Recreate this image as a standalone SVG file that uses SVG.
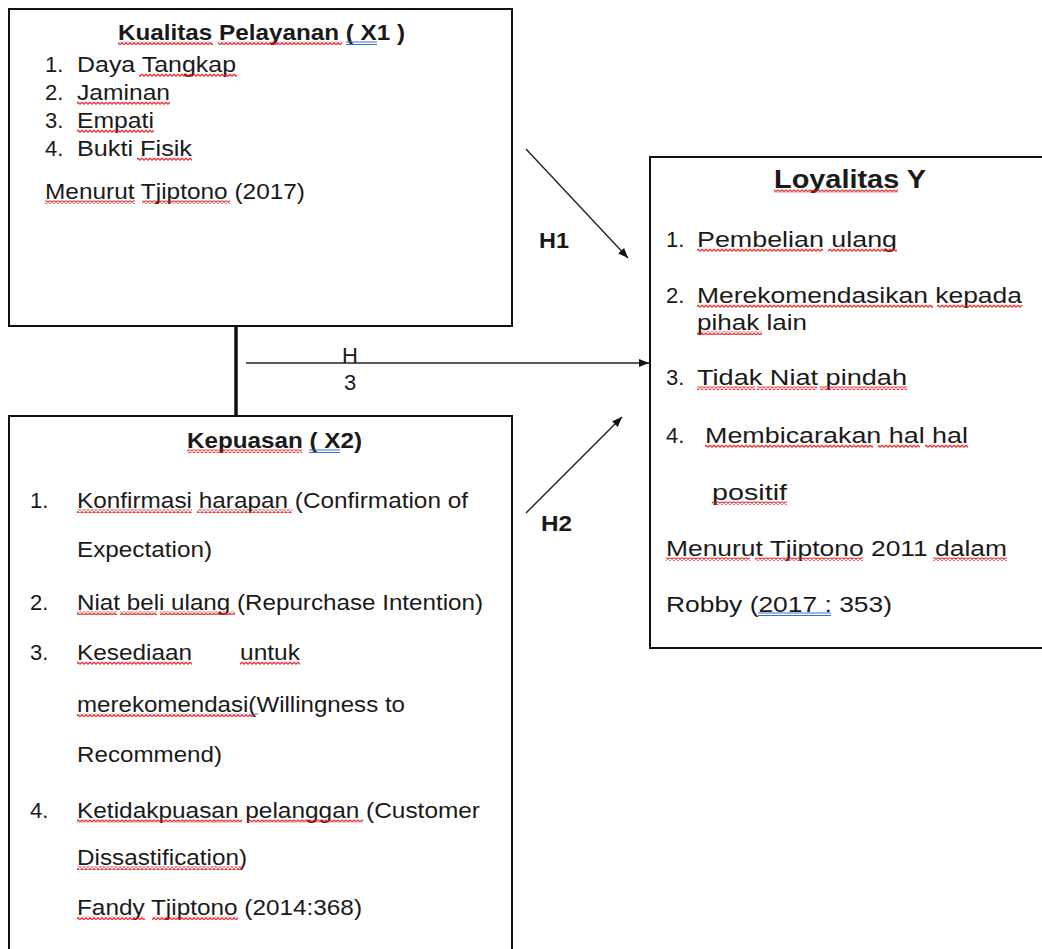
<svg xmlns="http://www.w3.org/2000/svg" width="1042" height="949" viewBox="0 0 1042 949">
<defs>
<style>
.box{fill:#fff;stroke:#111;stroke-width:2}
.t{font-family:"Liberation Sans",Arial,sans-serif;font-size:22px;fill:#1a1a1a}
.b{font-weight:bold}
.ar{stroke:#222;stroke-width:1.4;fill:none;marker-end:url(#ah)}
.w{fill:url(#wave)}
.bl{stroke:#3f6fd0;stroke-width:1}
</style>
<marker id="ah" viewBox="0 0 10 8" refX="10" refY="4" markerWidth="10" markerHeight="8" markerUnits="userSpaceOnUse" orient="auto">
<path d="M0 0 L10 4 L0 8 Z" fill="#111"/>
</marker>
<pattern id="wave" width="4" height="3.5" patternUnits="userSpaceOnUse">
<path d="M0 2.8 L2 0.7 L4 2.8" fill="none" stroke="#e01818" stroke-width="1.2"/>
</pattern>
</defs>
<rect width="1042" height="949" fill="#fff"/>

<g id="connectors">
<line x1="236" y1="326" x2="236" y2="416" stroke="#111" stroke-width="3.5"/>
<line class="ar" x1="246" y1="363" x2="649" y2="363"/>
<line class="ar" x1="526" y1="149" x2="628" y2="258"/>
<line class="ar" x1="526" y1="513" x2="622" y2="417"/>
<text class="t b" x="539" y="248" textLength="30" lengthAdjust="spacingAndGlyphs">H1</text>
<text class="t b" x="541" y="531" textLength="31" lengthAdjust="spacingAndGlyphs">H2</text>
<text class="t" x="350" y="363" text-anchor="middle">H</text>
<text class="t" x="350" y="390" text-anchor="middle">3</text>
</g>

<g id="kualitas">
<rect class="box" x="9" y="9" width="503" height="317"/>
<text class="t b" x="118" y="40" textLength="287" lengthAdjust="spacingAndGlyphs">Kualitas Pelayanan ( X1 )</text>
<text class="t" x="45" y="72">1.</text>
<text class="t" x="77" y="72" textLength="159" lengthAdjust="spacingAndGlyphs">Daya Tangkap</text>
<text class="t" x="45" y="100">2.</text>
<text class="t" x="77" y="100" textLength="93" lengthAdjust="spacingAndGlyphs">Jaminan</text>
<text class="t" x="45" y="128">3.</text>
<text class="t" x="77" y="128" textLength="77" lengthAdjust="spacingAndGlyphs">Empati</text>
<text class="t" x="45" y="156">4.</text>
<text class="t" x="77" y="156" textLength="115" lengthAdjust="spacingAndGlyphs">Bukti Fisik</text>
<text class="t" x="45" y="199" textLength="260" lengthAdjust="spacingAndGlyphs">Menurut Tjiptono (2017)</text>
<rect class="w" x="118" y="41.5" width="95" height="3.5"/>
<rect class="w" x="218" y="41.5" width="124" height="3.5"/>
<line class="bl" x1="346" y1="42" x2="377" y2="42"/><line class="bl" x1="346" y1="44.5" x2="377" y2="44.5"/>
<rect class="w" x="139" y="73.5" width="98" height="3.5"/>
<rect class="w" x="77" y="101.5" width="93" height="3.5"/>
<rect class="w" x="77" y="129.5" width="77" height="3.5"/>
<rect class="w" x="137" y="157.5" width="55" height="3.5"/>
<rect class="w" x="45" y="200.5" width="90" height="3.5"/>
<rect class="w" x="142" y="200.5" width="88" height="3.5"/>
</g>

<g id="loyalitas">
<rect class="box" x="650" y="157" width="400" height="491"/>
<text class="t b" x="774" y="188" textLength="152" lengthAdjust="spacingAndGlyphs" style="font-size:25px">Loyalitas Y</text>
<text class="t" x="666" y="247">1.</text>
<text class="t" x="697" y="247" textLength="200" lengthAdjust="spacingAndGlyphs">Pembelian ulang</text>
<text class="t" x="666" y="303">2.</text>
<text class="t" x="697" y="303" textLength="325" lengthAdjust="spacingAndGlyphs">Merekomendasikan kepada</text>
<text class="t" x="697" y="330" textLength="110" lengthAdjust="spacingAndGlyphs">pihak lain</text>
<text class="t" x="666" y="385">3.</text>
<text class="t" x="697" y="385" textLength="210" lengthAdjust="spacingAndGlyphs">Tidak Niat pindah</text>
<text class="t" x="666" y="443">4.</text>
<text class="t" x="705" y="443" textLength="263" lengthAdjust="spacingAndGlyphs">Membicarakan hal hal</text>
<text class="t" x="712" y="500" textLength="75" lengthAdjust="spacingAndGlyphs">positif</text>
<text class="t" x="666" y="556" textLength="341" lengthAdjust="spacingAndGlyphs">Menurut Tjiptono 2011 dalam</text>
<text class="t" x="666" y="612" textLength="226" lengthAdjust="spacingAndGlyphs">Robby (2017 : 353)</text>
<rect class="w" x="774" y="189.5" width="124" height="3.5"/>
<rect class="w" x="697" y="248.5" width="126" height="3.5"/>
<rect class="w" x="828" y="248.5" width="69" height="3.5"/>
<rect class="w" x="697" y="304.5" width="236" height="3.5"/>
<rect class="w" x="937" y="304.5" width="85" height="3.5"/>
<rect class="w" x="697" y="331.5" width="65" height="3.5"/>
<rect class="w" x="697" y="386.5" width="58" height="3.5"/>
<rect class="w" x="757" y="386.5" width="60" height="3.5"/>
<rect class="w" x="820" y="386.5" width="87" height="3.5"/>
<rect class="w" x="705" y="444.5" width="168" height="3.5"/>
<rect class="w" x="878" y="444.5" width="42" height="3.5"/>
<rect class="w" x="925" y="444.5" width="43" height="3.5"/>
<rect class="w" x="712" y="501.5" width="75" height="3.5"/>
<rect class="w" x="666" y="557.5" width="84" height="3.5"/>
<rect class="w" x="755" y="557.5" width="108" height="3.5"/>
<rect class="w" x="933" y="557.5" width="74" height="3.5"/>
<line class="bl" x1="758" y1="613" x2="831" y2="613"/><line class="bl" x1="758" y1="615.5" x2="831" y2="615.5"/>
</g>

<g id="kepuasan">
<rect class="box" x="9" y="416" width="503" height="545"/>
<text class="t b" x="187" y="448" textLength="175" lengthAdjust="spacingAndGlyphs">Kepuasan ( X2)</text>
<text class="t" x="30" y="508">1.</text>
<text class="t" x="77" y="508" textLength="391" lengthAdjust="spacingAndGlyphs">Konfirmasi harapan (Confirmation of</text>
<text class="t" x="77" y="557" textLength="135" lengthAdjust="spacingAndGlyphs">Expectation)</text>
<text class="t" x="30" y="610">2.</text>
<text class="t" x="77" y="610" textLength="406" lengthAdjust="spacingAndGlyphs">Niat beli ulang (Repurchase Intention)</text>
<text class="t" x="30" y="660">3.</text>
<text class="t" x="77" y="660" textLength="115" lengthAdjust="spacingAndGlyphs">Kesediaan</text>
<text class="t" x="240" y="660" textLength="60" lengthAdjust="spacingAndGlyphs">untuk</text>
<text class="t" x="77" y="712" textLength="328" lengthAdjust="spacingAndGlyphs">merekomendasi(Willingness to</text>
<text class="t" x="77" y="762" textLength="145" lengthAdjust="spacingAndGlyphs">Recommend)</text>
<text class="t" x="30" y="818">4.</text>
<text class="t" x="77" y="818" textLength="403" lengthAdjust="spacingAndGlyphs">Ketidakpuasan pelanggan (Customer</text>
<text class="t" x="77" y="865" textLength="170" lengthAdjust="spacingAndGlyphs">Dissastification)</text>
<text class="t" x="77" y="915" textLength="285" lengthAdjust="spacingAndGlyphs">Fandy Tjiptono (2014:368)</text>
<rect class="w" x="187" y="449.5" width="115" height="3.5"/>
<line class="bl" x1="309" y1="450" x2="340" y2="450"/><line class="bl" x1="309" y1="452.5" x2="340" y2="452.5"/>
<rect class="w" x="77" y="509.5" width="115" height="3.5"/>
<rect class="w" x="197" y="509.5" width="95" height="3.5"/>
<rect class="w" x="77" y="611.5" width="40" height="3.5"/>
<rect class="w" x="120" y="611.5" width="37" height="3.5"/>
<rect class="w" x="160" y="611.5" width="75" height="3.5"/>
<rect class="w" x="77" y="661.5" width="115" height="3.5"/>
<rect class="w" x="240" y="661.5" width="60" height="3.5"/>
<rect class="w" x="77" y="713.5" width="176" height="3.5"/>
<line class="bl" x1="253" y1="714" x2="258" y2="714"/>
<rect class="w" x="77" y="819.5" width="165" height="3.5"/>
<rect class="w" x="247" y="819.5" width="116" height="3.5"/>
<rect class="w" x="77" y="866.5" width="166" height="3.5"/>
<rect class="w" x="77" y="916.5" width="68" height="3.5"/>
<rect class="w" x="152" y="916.5" width="86" height="3.5"/>
</g>
</svg>
